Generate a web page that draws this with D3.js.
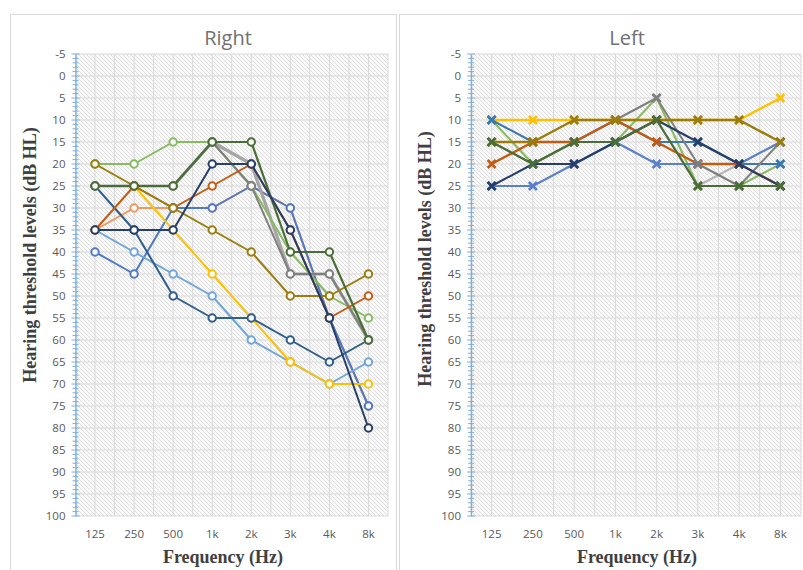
<!DOCTYPE html>
<html><head><meta charset="utf-8">
<script src="https://cdn.jsdelivr.net/npm/d3@7"></script>
<style>body{margin:0;background:#fff;overflow:hidden}</style>
</head><body>
<svg id="c" width="803" height="570"></svg>
<script>
// ---------- data ----------
const frequencies = ["125","250","500","1k","2k","3k","4k","8k"];
const yTickValues = d3.range(-5, 101, 5);
const yMinorValues = d3.range(-5, 101, 1);
const yTitle = "Hearing threshold levels (dB HL)";
const xTitle = "Frequency (Hz)";

// Right ear (open circles), drawing order bottom -> top
const rightLightOrange = [35,30,30,30,25,30,55,75];
const rightBlue        = [40,45,30,30,25,30,55,75];
const rightLightBlue   = [35,40,45,50,60,65,70,65];
const rightGold        = [25,25,35,45,55,65,70,70];
const rightDarkBlue    = [25,35,50,55,55,60,65,60];
const rightLightGray   = [25,25,25,15,20,45,45,60];
const rightLightGreen  = [20,20,15,15,25,40,50,55];
const rightDarkGray    = [25,25,25,15,25,45,45,60];
const rightBrown       = [35,25,30,25,20,35,55,50];
const rightOlive       = [20,25,30,35,40,50,50,45];
const rightDarkGreen   = [25,25,25,15,15,40,40,60];
const rightNavy        = [35,35,35,20,20,35,55,80];

// Left ear (crosses), drawing order bottom -> top
const leftLightGray  = [15,20,15,15,10,25,20,15];
const leftGold       = [10,10,10,10,10,10,10,5];
const leftLightGreen = [10,20,15,15,5,25,25,20];
const leftTeal       = [10,15,15,10,15,15,20,20];
const leftBlue       = [25,25,20,15,20,20,20,15];
const leftBrown      = [20,15,15,10,15,20,20,25];
const leftDarkGray   = [null,null,null,10,5,20,25,15];
const leftOlive      = [15,15,10,10,10,10,10,15];
const leftNavy       = [25,20,20,15,10,15,20,25];
const leftDarkGreen  = [15,20,15,15,10,25,25,25];

const rightSeries = [
  {v: rightLightOrange, c: "#F1975A", w: 2},
  {v: rightBlue,        c: "#4F79C6", w: 2},
  {v: rightLightBlue,   c: "#6FA6DA", w: 2},
  {v: rightGold,        c: "#FFC000", w: 2},
  {v: rightDarkBlue,    c: "#2E5E8E", w: 2},
  {v: rightLightGray,   c: "#A5A5A5", w: 3.2},
  {v: rightLightGreen,  c: "#86BC5E", w: 2},
  {v: rightDarkGray,    c: "#7F7F7F", w: 2},
  {v: rightBrown,       c: "#C55A11", w: 2},
  {v: rightOlive,       c: "#9C7C0A", w: 2},
  {v: rightDarkGreen,   c: "#4A6E37", w: 2.2},
  {v: rightNavy,        c: "#263F6A", w: 2}
];
const leftSeries = [
  {v: leftLightGray,  c: "#B7B7B7", w: 2},
  {v: leftGold,       c: "#FFC000", w: 2.4},
  {v: leftLightGreen, c: "#86BC5E", w: 2},
  {v: leftTeal,       c: "#3A78B4", w: 2},
  {v: leftBlue,       c: "#5A7FCC", w: 2},
  {v: leftBrown,      c: "#C55A11", w: 2.4},
  {v: leftDarkGray,   c: "#7F7F7F", w: 2},
  {v: leftOlive,      c: "#9C7C0A", w: 2.4},
  {v: leftNavy,       c: "#263F6A", w: 2},
  {v: leftDarkGreen,  c: "#4A6E37", w: 2.2}
];

// ---------- drawing ----------
const svg = d3.select("#c");
const defs = svg.append("defs");
const pat = defs.append("pattern").attr("id","hatch").attr("patternUnits","userSpaceOnUse")
  .attr("width",4).attr("height",4);
pat.append("rect").attr("width",4).attr("height",4).attr("fill","#fafafa");
pat.append("path").attr("d","M-1,3 l2,2 M0,0 l4,4 M3,-1 l2,2")
  .attr("stroke","#dedede").attr("stroke-width",1);

function panel(o){
  const g = svg.append("g");
  g.append("rect").attr("x",o.bx).attr("y",14.5).attr("width",o.bw).attr("height",600)
    .attr("fill","#fff").attr("stroke","#d9d9d9").attr("stroke-width",1);

  const x = d3.scaleBand().domain(frequencies).range([o.x0, o.x1]).padding(0);
  const y = d3.scaleLinear().domain([-5,100]).range([54,516]);
  const cx = d => x(d) + x.bandwidth()/2;

  // plot background
  g.append("rect").attr("x",o.x0).attr("y",y(-5)).attr("width",o.x1-o.x0)
    .attr("height",y(100)-y(-5)).attr("fill","url(#hatch)");

  // gridlines
  const vgrid = [];
  frequencies.forEach(f => { vgrid.push(x(f)); vgrid.push(cx(f)); });
  vgrid.push(o.x1);
  g.append("g").selectAll("line").data(vgrid).join("line")
    .attr("x1",d=>d).attr("x2",d=>d).attr("y1",y(-5)).attr("y2",y(100))
    .attr("stroke","#d9d9d9").attr("stroke-width",1);
  g.append("g").selectAll("line").data(yTickValues).join("line")
    .attr("x1",o.x0).attr("x2",o.x1).attr("y1",d=>y(d)).attr("y2",d=>y(d))
    .attr("stroke","#d9d9d9").attr("stroke-width",1);

  // y axis (light blue with crossing ticks)
  const ax = g.append("g").attr("transform",`translate(${o.x0},0)`);
  const yAxis = d3.axisLeft(y).tickValues(yTickValues).tickFormat(d => String(d))
    .tickSize(0).tickPadding(10);
  ax.call(yAxis);
  ax.select(".domain").attr("stroke","#7EAFDA").attr("stroke-width",1.3);
  ax.selectAll("text").attr("fill","#595959").style("font-family","'Open Sans', sans-serif")
    .style("font-size","11.5px");
  ax.append("g").selectAll("line").data(yMinorValues).join("line")
    .attr("x1",d => d%5===0 ? -4 : -3).attr("x2",d => d%5===0 ? 4 : 3)
    .attr("y1",d=>y(d)).attr("y2",d=>y(d))
    .attr("stroke","#7EAFDA").attr("stroke-width",1);

  // x labels
  const xa = g.append("g").attr("transform",`translate(0,${y(100)})`);
  xa.call(d3.axisBottom(x).tickSize(0).tickPadding(14));
  xa.select(".domain").remove();
  xa.selectAll("text").attr("fill","#595959").style("font-family","'Open Sans', sans-serif")
    .style("font-size","11.5px");

  // series
  const line = d3.line().defined(d => d.v !== null).x(d => cx(d.f)).y(d => y(d.v));
  o.series.forEach(s => {
    const pts = frequencies.map((f,i) => ({f, v: s.v[i]}));
    const sg = g.append("g");
    sg.append("path").datum(pts).attr("d", line).attr("fill","none")
      .attr("stroke", s.c).attr("stroke-width", s.w).attr("stroke-linejoin","round");
    const valid = pts.filter(d => d.v !== null);
    if (o.marker === "circle") {
      sg.selectAll("circle").data(valid).join("circle")
        .attr("cx", d=>cx(d.f)).attr("cy", d=>y(d.v)).attr("r",3.7)
        .attr("fill","#fff").attr("stroke", s.c).attr("stroke-width",2);
    } else {
      sg.selectAll("path.m").data(valid).join("path").attr("class","m")
        .attr("transform", d=>`translate(${cx(d.f)},${y(d.v)})`)
        .attr("d","M-4,-4L4,4M-4,4L4,-4")
        .attr("stroke", s.c).attr("stroke-width",2.6).attr("fill","none");
    }
  });

  // titles
  g.append("text").attr("x",o.tx).attr("y",45).attr("text-anchor","middle")
    .attr("fill","#717171").style("font-family","'Open Sans', sans-serif")
    .style("font-size","20px").text(o.title);
  g.append("text").attr("transform",`translate(${o.ytx},${o.yty}) rotate(-90)`)
    .attr("text-anchor","middle").attr("fill","#404040")
    .style("font-family","'Liberation Serif', 'Times New Roman', serif")
    .style("font-weight","bold").style("font-size","18px").text(yTitle);
  g.append("text").attr("x",o.xtx).attr("y",563).attr("text-anchor","middle")
    .attr("fill","#404040")
    .style("font-family","'Liberation Serif', 'Times New Roman', serif")
    .style("font-weight","bold").style("font-size","18px").text(xTitle);
}

panel({bx:10.5, bw:386, x0:75.5, x1:388, series:rightSeries, marker:"circle",
  title:"Right", tx:228, ytx:36, yty:255, xtx:223});
panel({bx:399.5, bw:420, x0:471, x1:801, series:leftSeries, marker:"x",
  title:"Left", tx:627, ytx:431, yty:259, xtx:637});
</script>
</body></html>
